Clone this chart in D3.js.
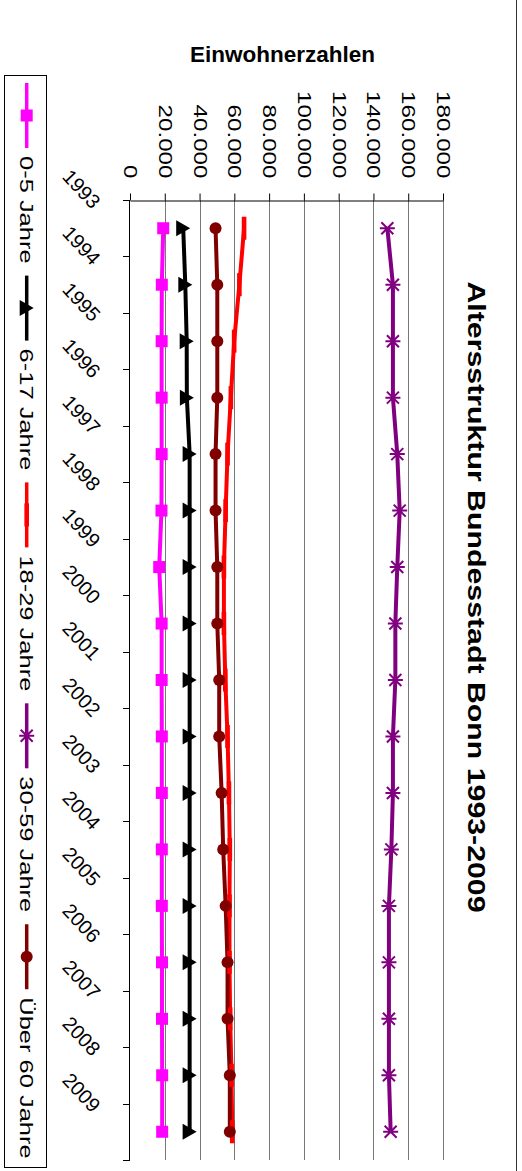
<!DOCTYPE html>
<html>
<head>
<meta charset="utf-8">
<script src="https://cdn.jsdelivr.net/npm/d3@7"></script>
<style>
  body { margin: 0; background: #fff; }
  svg { display: block; font-family: "Liberation Sans", Arial, sans-serif; }
</style>
</head>
<body>
<script>
'use strict';

// Jahre (Kategorien)
var annees = ['1993', '1994', '1995', '1996', '1997', '1998', '1999', '2000', '2001',
  '2002', '2003', '2004', '2005', '2006', '2007', '2008', '2009'];

// Einwohner pro Altersgruppe
var jahre0_5 = [19100, 18300, 18200, 18200, 18200, 18100, 16800, 18200, 18200,
  18300, 18300, 18300, 18300, 18400, 18400, 18500, 18500];
var jahre6_17 = [30600, 31800, 32600, 32700, 34300, 34300, 34300, 34300, 34300,
  34300, 34300, 34300, 34300, 34300, 34300, 34300, 34300];
var jahre18_29 = [65600, 62900, 59900, 58000, 56100, 55000, 54000, 54000, 54800,
  56100, 56900, 57400, 57200, 57200, 57600, 58400, 58800];
var jahre30_59 = [148000, 151200, 151200, 151200, 153700, 155100, 153700, 152600, 152600,
  151200, 151200, 150300, 148900, 148900, 148900, 148900, 149900];
var ueber60 = [49200, 50200, 50200, 50200, 49200, 49200, 50200, 50200, 51300,
  51300, 52700, 53600, 55000, 56100, 56100, 57400, 57400];

var nomsSeries = ['0-5 Jahre', '6-17 Jahre', '18-29 Jahre', '30-59 Jahre', 'Über 60 Jahre'];
var valeursAxe = [0, 20000, 40000, 60000, 80000, 100000, 120000, 140000, 160000, 180000];

var titre = 'Altersstruktur Bundesstadt Bonn 1993-2009';
var titreAxe = 'Einwohnerzahlen';

var W = 522, H = 1171;
var stretch = 1.3;   // le graphique est etire le long de l'axe vertical

var svg = d3.select('body').append('svg').attr('width', W).attr('height', H);

var y = d3.scaleBand().domain(annees).range([200, 1160]);
var x = d3.scaleLinear().domain([0, 180000]).range([130, 443]);
var fmt = d3.formatLocale({decimal: ',', thousands: '.', grouping: [3], currency: ['', ' €']}).format(',');

function cy(d, i) { return y(annees[i]) + y.bandwidth() / 2; }

var series = [
  {nom: nomsSeries[0], data: jahre0_5, color: '#ff00ff', marker: 'square'},
  {nom: nomsSeries[1], data: jahre6_17, color: '#000000', marker: 'triangle'},
  {nom: nomsSeries[2], data: jahre18_29, color: '#ff0000', marker: 'dash'},
  {nom: nomsSeries[3], data: jahre30_59, color: '#800080', marker: 'star'},
  {nom: nomsSeries[4], data: ueber60, color: '#800000', marker: 'circle'}
];

// bordure a droite
svg.append('line')
  .attr('x1', 516.5).attr('x2', 516.5).attr('y1', 0).attr('y2', H)
  .attr('stroke', '#333').attr('stroke-width', 1);

// lignes de grille
svg.append('g').selectAll('line')
  .data(valeursAxe.slice(1))
  .enter().append('line')
  .attr('x1', function (d) { return Math.round(x(d)) + 0.5; })
  .attr('x2', function (d) { return Math.round(x(d)) + 0.5; })
  .attr('y1', 200).attr('y2', 1160)
  .attr('stroke', '#777').attr('stroke-width', 1);

// axe des valeurs (en haut)
var axeV = svg.append('g')
  .attr('transform', 'translate(0,200.5)')
  .call(d3.axisTop(x).tickValues(valeursAxe).tickSize(7).tickSizeOuter(0).tickFormat(fmt));
axeV.select('.domain').attr('stroke', '#000');
axeV.selectAll('.tick line').attr('stroke', '#000');
axeV.selectAll('.tick text')
  .attr('y', null).attr('dy', '0.35em')
  .attr('text-anchor', 'end')
  .attr('font-size', 18.6)
  .attr('font-family', '"Liberation Sans", Arial, sans-serif')
  .attr('fill', '#000')
  .attr('transform', 'translate(0,-22) rotate(90) scale(' + stretch + ',1)');

// axe des categories (a gauche)
var bornes = annees.map(function (a) { return y(a); }).concat([y.range()[1]]);
var axeC = svg.append('g');
axeC.append('line')
  .attr('x1', 129.5).attr('x2', 129.5).attr('y1', 200).attr('y2', 1160)
  .attr('stroke', '#000');
axeC.selectAll('line.tk').data(bornes).enter().append('line')
  .attr('class', 'tk')
  .attr('x1', 123).attr('x2', 130)
  .attr('y1', function (d) { return Math.round(d) + 0.5; })
  .attr('y2', function (d) { return Math.round(d) + 0.5; })
  .attr('stroke', '#000');
axeC.selectAll('text').data(annees).enter().append('text')
  .attr('transform', function (d) { return 'translate(91.5,' + (y(d) + 10) + ') rotate(47)'; })
  .attr('text-anchor', 'end')
  .attr('font-size', 20)
  .text(function (d) { return d; });

// series
var ligne = d3.line()
  .x(function (d) { return x(d); })
  .y(function (d, i) { return cy(d, i); });

function dessineMarker(g, type, color, px, py) {
  if (type === 'square') {
    g.append('rect').attr('x', px - 6).attr('y', py - 6).attr('width', 12).attr('height', 12)
      .attr('fill', color);
  } else if (type === 'triangle') {
    g.append('path').attr('d', 'M' + (px - 7) + ',' + (py - 8) + 'L' + (px + 7) + ',' + py +
      'L' + (px - 7) + ',' + (py + 8) + 'Z').attr('fill', color);
  } else if (type === 'dash') {
    g.append('rect').attr('x', px - 2.3).attr('y', py - 11.5).attr('width', 4.6).attr('height', 23)
      .attr('fill', color);
  } else if (type === 'circle') {
    g.append('circle').attr('cx', px).attr('cy', py).attr('r', 6).attr('fill', color);
  } else if (type === 'star') {
    g.append('path')
      .attr('d', 'M' + (px - 6) + ',' + (py - 6) + 'L' + (px + 6) + ',' + (py + 6) +
        'M' + (px - 6) + ',' + (py + 6) + 'L' + (px + 6) + ',' + (py - 6) +
        'M' + (px - 7.5) + ',' + py + 'L' + (px + 7.5) + ',' + py)
      .attr('stroke', color).attr('stroke-width', 2).attr('fill', 'none');
  }
}

var gSeries = svg.append('g');
series.forEach(function (s) {
  gSeries.append('path')
    .attr('d', ligne(s.data))
    .attr('fill', 'none')
    .attr('stroke', s.color)
    .attr('stroke-width', 4)
    .attr('stroke-linejoin', 'round');
});
series.forEach(function (s) {
  var gm = gSeries.append('g');
  s.data.forEach(function (v, i) {
    dessineMarker(gm, s.marker, s.color, x(v), cy(v, i));
  });
});

// titre du graphique
svg.append('text')
  .attr('transform', 'translate(468,597) rotate(90) scale(' + stretch + ',1)')
  .attr('text-anchor', 'middle')
  .attr('font-size', 23.3)
  .attr('font-weight', 'bold')
  .text(titre);

// titre de l'axe
svg.append('text')
  .attr('x', 282.5).attr('y', 62)
  .attr('text-anchor', 'middle')
  .attr('font-size', 22.5)
  .attr('font-weight', 'bold')
  .text(titreAxe);

// legende
var legK = 1.37;
var leg = svg.append('g');
leg.append('rect')
  .attr('x', 4.5).attr('y', 75.5).attr('width', 42).attr('height', 1092)
  .attr('fill', '#fff').attr('stroke', '#000');

var lx = 26.7;
var pos = 83;
series.forEach(function (s) {
  leg.append('line')
    .attr('x1', lx).attr('x2', lx).attr('y1', pos).attr('y2', pos + 65)
    .attr('stroke', s.color).attr('stroke-width', 3.5);
  dessineMarker(leg, s.marker, s.color, lx, pos + 32.5);
  var t = leg.append('text')
    .attr('transform', 'translate(' + lx + ',' + (pos + 73) + ') rotate(90) scale(' + legK + ',1)')
    .attr('dy', '0.35em')
    .attr('font-size', 18.6)
    .text(s.nom);
  pos = pos + 73 + t.node().getComputedTextLength() * legK + 12;
});
</script>
</body>
</html>
